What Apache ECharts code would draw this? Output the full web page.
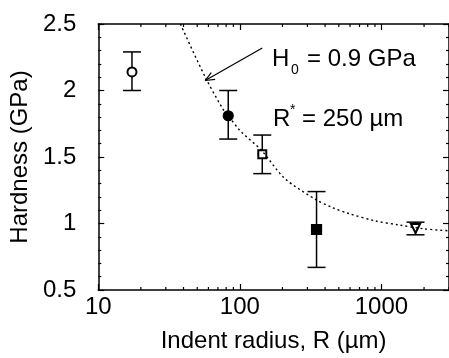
<!DOCTYPE html>
<html>
<head>
<meta charset="utf-8">
<script src="https://cdn.jsdelivr.net/npm/echarts@6/dist/echarts.min.js"></script>
<style>
  html, body { margin: 0; padding: 0; background: #fff; }
  #chart { width: 449px; height: 358px; }
</style>
</head>
<body>
<div id="chart"></div>
<script>
// measured points (indent radius in µm, hardness in GPa)
const radius = [17.3, 82.8, 144, 348, 1740]
const hardness = [2.14, 1.81, 1.52, 0.955, 0.963]
const errLow = [2.0, 1.635, 1.375, 0.67, 0.915]
const errHigh = [2.29, 2.0, 1.665, 1.24, 1.01]
const markers = ["emptyCircle", "circle", "emptyRect", "rect", "emptyTriangle"]
const markerSizes = [9, 10, 8, 10, 9]
const markerRotate = [0, 0, 0, 0, 180]

// dotted fit curve
const fitR = [38, 57, 76, 83, 100, 142, 207, 344, 450, 588, 900, 1315, 2000, 3000]
const fitH = [2.5, 2.1, 1.86, 1.81, 1.7, 1.55, 1.34, 1.18, 1.12, 1.075, 1.02, 0.99, 0.96, 0.945]

// arrow from the label to the curve
const arrowFrom = [144, 2.32]
const arrowTo = [56.9, 2.075]

// minor ticks on the log axis
const xMinor = [20, 30, 40, 50, 60, 70, 80, 90, 200, 300, 400, 500, 600, 700, 800, 900, 2000, 3000]

const FONT = "'Liberation Sans', Arial, sans-serif"
const FS = 24
const black = "#000"

const chart = echarts.init(document.getElementById("chart"))

const logAxis = (position, withLabel) => ({
  type: "log",
  position: position,
  min: 10,
  max: 3000,
  logBase: 10,
  axisLine: { show: true, lineStyle: { color: black, width: 1.5 } },
  axisTick: { show: true, inside: true, length: 6, lineStyle: { color: black, width: 1.2 } },
  axisLabel: withLabel
    ? {
        show: true,
        color: black,
        fontFamily: FONT,
        fontSize: FS,
        margin: 5,
        showMaxLabel: false,
        formatter: (v) => String(Math.round(v)),
      }
    : { show: false },
  splitLine: { show: false },
  minorTick: { show: false },
})

const valAxis = (position, withLabel) => ({
  type: "value",
  position: position,
  min: 0.5,
  max: 2.5,
  interval: 0.5,
  axisLine: { show: true, lineStyle: { color: black, width: 1.5 } },
  axisTick: { show: true, inside: true, length: 6, lineStyle: { color: black, width: 1.2 } },
  minorTick: { show: true, splitNumber: 5, length: 3, lineStyle: { color: black, width: 1.2 } },
  axisLabel: withLabel
    ? { show: true, color: black, fontFamily: FONT, fontSize: FS, margin: 22 }
    : { show: false },
  splitLine: { show: false },
  minorSplitLine: { show: false },
})

const xMain = logAxis("bottom", true)
xMain.name = "Indent radius, R (µm)"
xMain.nameLocation = "middle"
xMain.nameGap = 39
xMain.nameTextStyle = { color: black, fontFamily: FONT, fontSize: FS }

const yMain = valAxis("left", true)
yMain.name = "Hardness (GPa)"
yMain.nameLocation = "middle"
yMain.nameGap = 58
yMain.nameTextStyle = { color: black, fontFamily: FONT, fontSize: FS }

const option = {
  backgroundColor: "#fff",
  animation: false,
  grid: { left: 97, right: -2, top: 24, bottom: 66, containLabel: false },
  xAxis: [xMain, logAxis("top", false)],
  yAxis: [yMain, valAxis("right", false)],
  graphic: [
    { type: "text", left: 272, top: 47, style: { text: "H", font: FS + "px " + FONT, fill: black, verticalAlign: "middle" } },
    { type: "text", left: 291, top: 63, style: { text: "0", font: "14px " + FONT, fill: black, verticalAlign: "middle" } },
    { type: "text", left: 307, top: 47, style: { text: "= 0.9 GPa", font: FS + "px " + FONT, fill: black, verticalAlign: "middle" } },
    { type: "text", left: 273, top: 107, style: { text: "R", font: FS + "px " + FONT, fill: black, verticalAlign: "middle" } },
    { type: "text", left: 290, top: 103, style: { text: "*", font: "14px " + FONT, fill: black, verticalAlign: "middle" } },
    { type: "text", left: 302, top: 107, style: { text: "= 250 µm", font: FS + "px " + FONT, fill: black, verticalAlign: "middle" } },
  ],
  series: [
    {
      name: "minor ticks",
      type: "custom",
      data: xMinor.map((v) => [v]),
      silent: true,
      renderItem: (params, api) => {
        const x = api.coord([api.value(0), 1])[0]
        const top = params.coordSys.y
        const bottom = params.coordSys.y + params.coordSys.height
        const style = { stroke: black, lineWidth: 1.2 }
        return {
          type: "group",
          children: [
            { type: "line", shape: { x1: x, y1: bottom, x2: x, y2: bottom - 3 }, style },
            { type: "line", shape: { x1: x, y1: top, x2: x, y2: top + 3 }, style },
          ],
        }
      },
    },
    {
      name: "fit",
      type: "line",
      data: fitR.map((r, i) => [r, fitH[i]]),
      smooth: 0.3,
      symbol: "none",
      clip: true,
      lineStyle: { color: black, width: 1.4, type: [2, 3] },
    },
    {
      name: "arrow",
      type: "custom",
      silent: true,
      data: [[arrowFrom[0], arrowFrom[1], arrowTo[0], arrowTo[1]]],
      renderItem: (params, api) => {
        const p0 = api.coord([api.value(0), api.value(1)])
        const p1 = api.coord([api.value(2), api.value(3)])
        const ang = Math.atan2(p0[1] - p1[1], p0[0] - p1[0])
        const head = 10
        const spread = 0.4
        const style = { stroke: black, lineWidth: 1.2 }
        const wing = (s) => ({
          type: "line",
          shape: {
            x1: p1[0], y1: p1[1],
            x2: p1[0] + head * Math.cos(ang + s), y2: p1[1] + head * Math.sin(ang + s),
          },
          style,
        })
        return {
          type: "group",
          children: [
            { type: "line", shape: { x1: p0[0], y1: p0[1], x2: p1[0], y2: p1[1] }, style },
            wing(spread),
            wing(-spread),
          ],
        }
      },
    },
    {
      name: "error",
      type: "custom",
      data: radius.map((r, i) => [r, errLow[i], errHigh[i]]),
      renderItem: (params, api) => {
        const lo = api.coord([api.value(0), api.value(1)])
        const hi = api.coord([api.value(0), api.value(2)])
        const cap = 9
        const style = { stroke: black, lineWidth: 1.5 }
        return {
          type: "group",
          children: [
            { type: "line", shape: { x1: lo[0], y1: lo[1], x2: hi[0], y2: hi[1] }, style },
            { type: "line", shape: { x1: lo[0] - cap, y1: lo[1], x2: lo[0] + cap, y2: lo[1] }, style },
            { type: "line", shape: { x1: hi[0] - cap, y1: hi[1], x2: hi[0] + cap, y2: hi[1] }, style },
          ],
        }
      },
    },
    {
      name: "points",
      type: "scatter",
      data: radius.map((r, i) => ({
        value: [r, hardness[i]],
        symbol: markers[i],
        symbolSize: markerSizes[i],
        symbolRotate: markerRotate[i],
      })),
      itemStyle: { color: black, borderColor: black, borderWidth: 1.2, opacity: 1 },
    },
  ],
}

chart.setOption(option)

window.addEventListener("resize", () => chart.resize())
</script>
</body>
</html>
